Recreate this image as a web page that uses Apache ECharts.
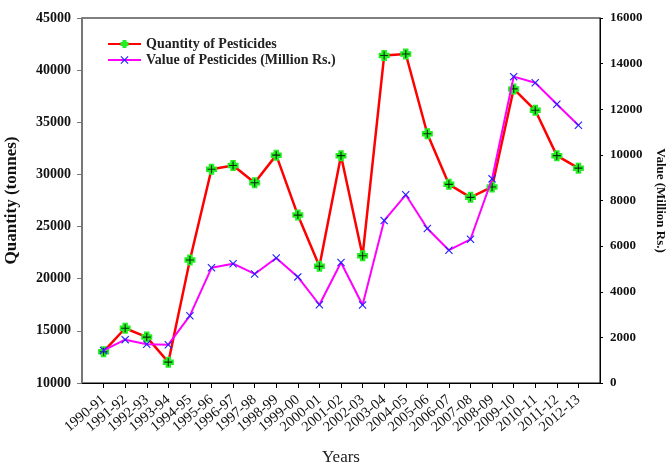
<!DOCTYPE html>
<html><head><meta charset="utf-8">
<script src="https://cdn.jsdelivr.net/npm/echarts@6/dist/echarts.min.js"></script>
<style>html,body{margin:0;padding:0;background:#fff}#c{width:667px;height:466px}</style>
</head><body><div id="c"></div>
<script>
const years = ['1990-91','1991-92','1992-93','1993-94','1994-95','1995-96','1996-97','1997-98','1998-99','1999-00','2000-01','2001-02','2002-03','2003-04','2004-05','2005-06','2006-07','2007-08','2008-09','2009-10','2010-11','2011-12','2012-13'];
const quantity = [13000,15250,14400,12000,21800,30500,30850,29200,31850,26100,21200,31800,22200,41400,41550,33900,29050,27800,28800,38200,36150,31800,30600];
const value = [1430,1900,1700,1680,2950,5050,5230,4780,5480,4650,3430,5280,3420,7120,8250,6770,5820,6300,8950,13430,13160,12220,11300];
const leftTicks = {min:10000,max:45000,interval:5000};
const rightTicks = {min:0,max:16000,interval:2000};

const serif = 'Liberation Serif';
const crossX = 'path://M0,1L1,0L5,4L9,0L10,1L6,5L10,9L9,10L5,6L1,10L0,9L4,5Z';
const thinPlus = 'path://M4.3,0H5.7V4.3H10V5.7H5.7V10H4.3V5.7H0V4.3H4.3Z';
const thickPlus = 'path://M2.5,0H7.5V2.5H10V7.5H7.5V10H2.5V7.5H0V2.5H2.5Z';

const qData = quantity.map((v,i)=>[i,v]);
const vData = value.map((v,i)=>[i,v]);

const chart = echarts.init(document.getElementById('c'));
chart.setOption({
  animation:false,
  grid:{left:82,right:67,top:18,bottom:83,show:true,borderColor:'#000',borderWidth:1,outerBoundsMode:'none',containLabel:false},
  legend:{
    orient:'vertical',left:102,top:32,itemWidth:33,itemHeight:10,itemGap:2,
    textStyle:{fontFamily:serif,fontWeight:'bold',fontSize:14,color:'#222'},
    data:['Quantity of Pesticides','Value of Pesticides (Million Rs.)']
  },
  xAxis:{
    type:'value',min:-1,max:23,interval:1,
    name:'Years',nameLocation:'middle',nameGap:66,
    nameTextStyle:{fontFamily:serif,fontSize:17,color:'#222'},
    axisLine:{onZero:false,lineStyle:{color:'#000',width:1}},
    axisTick:{show:true,length:5,lineStyle:{color:'#000'}},
    splitLine:{show:false},
    axisLabel:{rotate:40,fontFamily:serif,fontSize:14.5,color:'#111',margin:15,
      formatter:v=>years[v]!==undefined?years[v]:'',showMinLabel:false,showMaxLabel:false}
  },
  yAxis:[{
    type:'value',min:leftTicks.min,max:leftTicks.max,interval:leftTicks.interval,
    name:'Quantity (tonnes)',nameLocation:'middle',nameGap:62,nameRotate:90,
    nameTextStyle:{fontFamily:serif,fontWeight:'bold',fontSize:17,color:'#111'},
    axisLine:{show:true,onZero:false,lineStyle:{color:'#777',width:2}},
    axisTick:{show:true,length:5,lineStyle:{color:'#777',width:1}},
    splitLine:{show:false},
    axisLabel:{fontFamily:serif,fontWeight:'bold',fontSize:14,color:'#111',margin:11,formatter:v=>String(v)}
  },{
    type:'value',min:rightTicks.min,max:rightTicks.max,interval:rightTicks.interval,position:'right',
    name:'Value (Million Rs.)',nameLocation:'middle',nameGap:54,nameRotate:-90,
    nameTextStyle:{fontFamily:serif,fontWeight:'bold',fontSize:13,color:'#111'},
    axisLine:{show:true,onZero:false,lineStyle:{color:'#000',width:1}},
    axisTick:{show:true,length:3,lineStyle:{color:'#000'}},
    splitLine:{show:false},
    axisLabel:{fontFamily:serif,fontWeight:'bold',fontSize:13,color:'#111',margin:10,formatter:v=>String(v)}
  }],
  series:[{
    name:'Quantity of Pesticides',type:'line',yAxisIndex:0,data:qData,
    symbol:thickPlus,symbolSize:11,showAllSymbol:true,
    lineStyle:{color:'#ff0000',width:2.5},
    itemStyle:{color:'#22ee22',borderWidth:0},z:3
  },{
    name:'Quantity of Pesticides',type:'scatter',yAxisIndex:0,data:qData,
    symbol:thinPlus,symbolSize:8,itemStyle:{color:'#000'},z:4,silent:true
  },{
    name:'Value of Pesticides (Million Rs.)',type:'line',yAxisIndex:1,data:vData,
    symbol:crossX,symbolSize:8,showAllSymbol:true,
    lineStyle:{color:'#ff00ff',width:2},
    itemStyle:{color:'#2222ff'},z:5
  }]
});
</script></body></html>
